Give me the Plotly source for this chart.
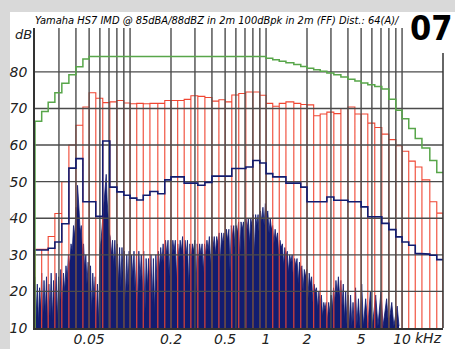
import math
import plotly.graph_objects as go

# ---------------- data ----------------
# 1/6-octave band edges (kHz)
band_edges_khz = [0.020, 0.0224, 0.025, 0.028, 0.0315, 0.0355, 0.040, 0.045, 0.050, 0.056,
                  0.063, 0.071, 0.080, 0.090, 0.100, 0.112, 0.125, 0.140, 0.160, 0.180,
                  0.200, 0.224, 0.250, 0.280, 0.315, 0.355, 0.400, 0.450, 0.500, 0.560,
                  0.630, 0.710, 0.800, 0.900, 1.000, 1.120, 1.250, 1.400, 1.600, 1.800,
                  2.000, 2.240, 2.500, 2.800, 3.150, 3.550, 4.000, 4.500, 5.000, 5.600,
                  6.300, 7.100, 8.000, 9.000, 10.00, 11.20, 12.50, 14.00, 16.00, 18.00, 20.00]

# green: fundamental level per band (dB)
fundamental_db = [66.5, 69.2, 71.7, 74.3, 76.9, 79.2, 81.4, 83.5, 84.2, 84.2,
                  84.2, 84.2, 84.2, 84.2, 84.2, 84.2, 84.2, 84.2, 84.2, 84.2,
                  84.2, 84.2, 84.2, 84.2, 84.2, 84.2, 84.2, 84.2, 84.2, 84.2,
                  84.2, 84.2, 84.2, 84.2, 83.7, 83.3, 82.9, 82.5, 82.0, 81.5,
                  81.0, 80.6, 80.2, 79.7, 79.2, 78.6, 78.0, 77.5, 77.0, 76.5,
                  76.0, 75.3, 72.5, 69.5, 67.2, 64.5, 61.8, 59.2, 55.8, 52.5]

# red: band level bars (dB)
band_level_db = [31.5, 31.5, 35.0, 41.3, 50.0, 60.0, 65.4, 70.4, 74.3, 72.8,
                 71.6, 71.8, 72.2, 71.5, 71.3, 71.4, 71.3, 71.4, 71.4, 72.2,
                 72.2, 72.2, 72.5, 73.5, 73.3, 73.0, 72.0, 72.4, 71.8, 73.7,
                 74.1, 74.5, 74.5, 73.6, 71.4, 70.6, 71.4, 71.8, 71.4, 71.1,
                 71.0, 68.0, 68.5, 69.0, 68.6, 70.0, 70.4, 68.5, 68.5, 66.0,
                 64.8, 63.0, 61.5, 59.8, 58.3, 55.6, 54.0, 50.5, 44.5, 41.4]

# navy: IMD level per band (dB)
imd_band_db = [31.3, 31.3, 31.8, 33.5, 38.5, 53.7, 56.3, 44.5, 44.5, 40.5,
               61.1, 48.5, 47.2, 46.3, 45.5, 45.0, 46.3, 47.3, 46.7, 50.5,
               51.3, 51.3, 49.6, 49.6, 49.0, 49.8, 51.5, 51.5, 51.5, 53.6,
               53.6, 54.0, 55.8, 55.1, 52.2, 51.3, 51.3, 49.6, 49.6, 48.5,
               44.5, 44.5, 44.5, 45.8, 44.9, 44.9, 44.5, 44.5, 43.1, 40.4,
               40.4, 38.6, 36.9, 34.9, 33.5, 32.6, 30.4, 30.2, 29.9, 28.7]

# navy filled FFT spectrum (kHz, dB)
fft_spectrum = [
    (0.0200, 24), (0.0204, 13), (0.0208, 22), (0.0212, 11), (0.0216, 21), (0.0220, 15), (0.0224, 25), (0.0228, 12),
    (0.0233, 23), (0.0238, 14), (0.0243, 24), (0.0248, 11), (0.0253, 22), (0.0258, 13), (0.0263, 25), (0.0268, 12),
    (0.0274, 23), (0.0280, 16), (0.0286, 25), (0.0292, 12), (0.0298, 24), (0.0304, 15), (0.0310, 26), (0.0317, 17),
    (0.0324, 25), (0.0331, 20), (0.0338, 27), (0.0345, 23), (0.0352, 30), (0.0360, 27), (0.0368, 33), (0.0376, 31),
    (0.0384, 38), (0.0392, 35), (0.0400, 43), (0.0406, 40), (0.0411, 49), (0.0416, 44), (0.0422, 42), (0.0430, 36),
    (0.0438, 38), (0.0446, 31), (0.0455, 33), (0.0464, 26), (0.0473, 30), (0.0482, 22), (0.0492, 28), (0.0502, 17),
    (0.0512, 27), (0.0522, 14), (0.0532, 25), (0.0543, 18), (0.0554, 24), (0.0565, 12), (0.0576, 22), (0.0588, 11),
    (0.0600, 31), (0.0612, 34), (0.0625, 38), (0.0640, 42), (0.0655, 46), (0.0668, 52), (0.0678, 45), (0.0690, 40),
    (0.0702, 36), (0.0714, 35), (0.0728, 30), (0.0743, 34), (0.0758, 27), (0.0773, 34), (0.0789, 26), (0.0805, 33),
    (0.0821, 22), (0.0838, 32), (0.0855, 21), (0.0872, 32), (0.0890, 24), (0.0908, 31), (0.0927, 17), (0.0946, 30),
    (0.0965, 21), (0.0985, 31), (0.1005, 16), (0.1026, 30), (0.1047, 24), (0.1069, 31), (0.1091, 19), (0.1114, 30),
    (0.1137, 15), (0.1160, 31), (0.1184, 23), (0.1209, 30), (0.1234, 20), (0.1260, 31), (0.1286, 14), (0.1313, 29),
    (0.1340, 21), (0.1368, 29), (0.1396, 23), (0.1425, 30), (0.1455, 17), (0.1485, 29), (0.1516, 14), (0.1548, 30),
    (0.1580, 22), (0.1613, 31), (0.1646, 26), (0.1680, 32), (0.1715, 28), (0.1751, 33), (0.1787, 26), (0.1824, 34),
    (0.1862, 30), (0.1901, 34), (0.1940, 24), (0.1981, 34), (0.2022, 29), (0.2064, 34), (0.2107, 31), (0.2151, 34),
    (0.2196, 23), (0.2241, 33), (0.2288, 29), (0.2336, 34), (0.2384, 31), (0.2434, 35), (0.2484, 26), (0.2536, 34),
    (0.2589, 30), (0.2643, 34), (0.2698, 21), (0.2754, 33), (0.2811, 29), (0.2870, 33), (0.2930, 31), (0.2991, 34),
    (0.3053, 19), (0.3117, 33), (0.3182, 28), (0.3248, 33), (0.3316, 30), (0.3385, 33), (0.3455, 25), (0.3527, 33),
    (0.3600, 30), (0.3676, 34), (0.3752, 31), (0.3830, 35), (0.3910, 27), (0.3991, 35), (0.4075, 32), (0.4160, 35),
    (0.4246, 30), (0.4335, 35), (0.4425, 33), (0.4517, 36), (0.4611, 28), (0.4707, 36), (0.4805, 33), (0.4905, 36),
    (0.5007, 31), (0.5112, 37), (0.5218, 34), (0.5327, 37), (0.5438, 25), (0.5551, 38), (0.5666, 35), (0.5784, 38),
    (0.5905, 32), (0.6028, 38), (0.6153, 36), (0.6281, 39), (0.6412, 29), (0.6545, 39), (0.6682, 37), (0.6821, 39),
    (0.6963, 27), (0.7108, 40), (0.7256, 37), (0.7407, 40), (0.7561, 33), (0.7718, 40), (0.7879, 38), (0.8043, 41),
    (0.8211, 30), (0.8382, 41), (0.8556, 38), (0.8734, 41), (0.8916, 35), (0.9102, 42), (0.9291, 39), (0.9485, 43),
    (0.9682, 38), (0.9884, 44), (1.0090, 41), (1.0300, 42), (1.0514, 36), (1.0733, 40), (1.0957, 37), (1.1185, 38),
    (1.1418, 33), (1.1655, 37), (1.1898, 34), (1.2146, 36), (1.2399, 30), (1.2657, 34), (1.2920, 32), (1.3189, 33),
    (1.3464, 27), (1.3744, 32), (1.4030, 30), (1.4322, 31), (1.4621, 25), (1.4925, 30), (1.5236, 28), (1.5553, 30),
    (1.5877, 23), (1.6208, 29), (1.6545, 27), (1.6890, 29), (1.7241, 22), (1.7600, 28), (1.7967, 26), (1.8341, 27),
    (1.8723, 20), (1.9112, 26), (1.9510, 24), (1.9917, 26), (2.0331, 18), (2.0755, 25), (2.1187, 22), (2.1628, 24),
    (2.2078, 17), (2.2538, 22), (2.3007, 20), (2.3486, 21), (2.3975, 15), (2.4474, 20), (2.4984, 17), (2.5504, 19),
    (2.6035, 13), (2.6577, 17), (2.7130, 15), (2.7695, 17), (2.8272, 12), (2.8860, 17), (2.9461, 14), (3.0075, 19),
    (3.0701, 15), (3.1340, 21), (3.1992, 17), (3.2658, 23), (3.3338, 19), (3.4032, 24), (3.4741, 18), (3.5464, 23),
    (3.6202, 16), (3.6956, 22), (3.7725, 12), (3.8511, 20), (3.9313, 11), (4.0131, 19), (4.0967, 10.5), (4.182, 19),
    (4.27, 10.5), (4.36, 17), (4.45, 10.5), (4.55, 21), (4.65, 10.5), (4.78, 18), (4.90, 10.5), (5.05, 22),
    (5.20, 10.5), (5.40, 18), (5.60, 10.5), (5.85, 20), (6.05, 10.5), (6.40, 19), (6.65, 10.5), (7.00, 20),
    (7.25, 10.5), (7.70, 18), (7.95, 10.5), (8.40, 17), (8.70, 10.5), (9.20, 16), (9.50, 10.5),
]

grid_freqs_khz = [0.03, 0.04, 0.05, 0.06, 0.07, 0.08, 0.09, 0.1,
                  0.2, 0.3, 0.4, 0.5, 0.6, 0.7, 0.8, 0.9, 1,
                  2, 3, 4, 5, 6, 7, 8, 9, 10]
grid_db = [20, 30, 40, 50, 60, 70, 80]
xtick_vals = [0.05, 0.2, 0.5, 1, 2, 5, 10]
xtick_text = ["0.05", "0.2", "0.5", "1", "2", "5", "10"]
ytick_vals = [10, 20, 30, 40, 50, 60, 70, 80]
Y_MIN, Y_MAX = 10, 92
X_MIN, X_MAX = 0.02, 20

title_text = "Yamaha HS7 IMD @ 85dBA/88dBZ in 2m 100dBpk in 2m (FF) Dist.: 64(A)/"

# ---------------- helpers ----------------
def step_path(edges, vals, floor=None):
    xs, ys = [], []
    if floor is not None:
        xs.append(edges[0]); ys.append(floor)
    for i, v in enumerate(vals):
        xs += [edges[i], edges[i + 1]]
        ys += [v, v]
    return xs, ys


def bar_outline_path(edges, vals, floor):
    xs, ys = [], []
    for i, v in enumerate(vals):
        xs += [edges[i], edges[i], edges[i + 1], edges[i + 1]]
        ys += [floor, v, v, floor]
    return xs, ys


NAVY = "rgb(18,28,112)"
RED = "rgb(240,70,50)"
GREEN = "rgb(88,166,74)"
GRID = "rgb(75,75,75)"
TICKFONT = dict(family="DejaVu Sans", size=14, color="#222", style="italic")
NARROW = "Liberation Sans Narrow, DejaVu Sans Condensed, sans-serif"

fig = go.Figure()

# FFT spectrum (filled)
fft_x = [p[0] for p in fft_spectrum]
fft_y = [p[1] for p in fft_spectrum]
fig.add_trace(go.Scatter(x=fft_x, y=fft_y, mode="lines", fill="tozeroy",
                         fillcolor=NAVY, line=dict(color=NAVY, width=0.8),
                         hoverinfo="skip", showlegend=False))

# red band bars
rx, ry = bar_outline_path(band_edges_khz, band_level_db, Y_MIN)
fig.add_trace(go.Scatter(x=rx, y=ry, mode="lines", line=dict(color=RED, width=1.1),
                         hoverinfo="skip", showlegend=False))

# grid lines (drawn over the spectrum, as in the original)
gx, gy = [], []
for f in grid_freqs_khz:
    gx += [f, f, None]
    gy += [Y_MIN, Y_MAX, None]
for d in grid_db:
    gx += [X_MIN, X_MAX, None]
    gy += [d, d, None]
fig.add_trace(go.Scatter(x=gx, y=gy, mode="lines", line=dict(color=GRID, width=1.4),
                         hoverinfo="skip", showlegend=False))

# navy band step line
nx, ny = step_path(band_edges_khz, imd_band_db)
fig.add_trace(go.Scatter(x=nx, y=ny, mode="lines", line=dict(color=NAVY, width=1.6),
                         hoverinfo="skip", showlegend=False))

# green fundamental step line
gx2, gy2 = step_path(band_edges_khz, fundamental_db, floor=Y_MIN)
fig.add_trace(go.Scatter(x=gx2, y=gy2, mode="lines", line=dict(color=GREEN, width=1.5),
                         hoverinfo="skip", showlegend=False))

W, H = 455, 349
ML, MR, MT, MB = 35, 12, 28, 21
PW, PH = W - ML - MR, H - MT - MB


def px_to_paper(px, py):
    return (px - ML) / PW, (H - MB - py) / PH


panel_x0, panel_y1 = px_to_paper(10, 12)
_, border_top = px_to_paper(0, 53)

fig.update_layout(
    width=W, height=H,
    margin=dict(l=ML, r=MR, t=MT, b=MB, autoexpand=False),
    paper_bgcolor="#d9d9d9",
    plot_bgcolor="white",
    showlegend=False,
    xaxis=dict(type="log", range=[math.log10(X_MIN), math.log10(X_MAX)], automargin=False,
               showgrid=False, zeroline=False, showline=True, linecolor="#333", linewidth=1.5,
               tickvals=xtick_vals, ticktext=xtick_text, ticks="", tickfont=TICKFONT,
               ticklabelstandoff=-3),
    yaxis=dict(range=[Y_MIN, Y_MAX], automargin=False, showgrid=False, zeroline=False,
               showline=True, linecolor="#333", linewidth=1.5, tickvals=ytick_vals, ticks="",
               tickfont=TICKFONT, ticklabelstandoff=3),
    shapes=[
        dict(type="rect", xref="paper", yref="paper", x0=panel_x0, x1=1.2, y0=-0.3, y1=panel_y1,
             fillcolor="white", line=dict(width=0), layer="below"),
        dict(type="line", xref="paper", yref="paper", x0=1, x1=1, y0=0, y1=border_top,
             line=dict(color="#333", width=1.5)),
    ],
)

tx, ty = px_to_paper(33, 21)
dbx, dby = px_to_paper(23, 34)
ox, oy = px_to_paper(431, 28)
kx, ky = px_to_paper(428, 338)
fig.add_annotation(x=tx, y=ty, xref="paper", yref="paper", text=title_text, showarrow=False,
                   xanchor="left", yanchor="middle",
                   font=dict(family=NARROW, size=11, color="black", style="italic"))
fig.add_annotation(x=dbx, y=dby, xref="paper", yref="paper", text="dB", showarrow=False,
                   xanchor="center", yanchor="middle",
                   font=dict(family="DejaVu Sans", size=13, color="#222", style="italic"))
fig.add_annotation(x=ox, y=oy, xref="paper", yref="paper", text="<b>07</b>", showarrow=False,
                   xanchor="center", yanchor="middle",
                   font=dict(family=NARROW, size=34, color="black"))
fig.add_annotation(x=kx, y=ky, xref="paper", yref="paper", text="kHz", showarrow=False,
                   xanchor="center", yanchor="middle", font=TICKFONT)

fig.write_html("out.html", config={"displayModeBar": False},
               post_script="document.body.style.margin='0px';document.body.style.overflow='hidden';")
